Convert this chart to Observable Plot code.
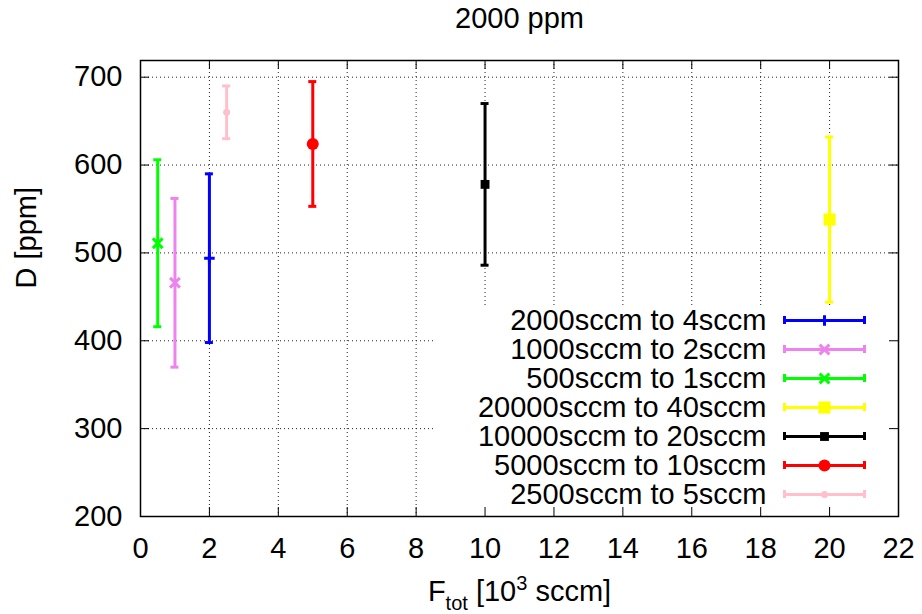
<!DOCTYPE html>
<html><head><meta charset="utf-8">
<script src="https://cdn.jsdelivr.net/npm/d3@7"></script>
<script src="https://cdn.jsdelivr.net/npm/@observablehq/plot@0.6"></script>
<style>
html,body{margin:0;padding:0;background:#fff;}
svg{display:block}
</style></head><body>
<div id="chart"></div>
<script>
// ---- data ----
const title = "2000 ppm";
const seriesLabels = ["2000sccm to 4sccm", "1000sccm to 2sccm", "500sccm to 1sccm", "20000sccm to 40sccm", "10000sccm to 20sccm", "5000sccm to 10sccm", "2500sccm to 5sccm"];
const flowTotal = [2, 1, 0.5, 20, 10, 5, 2.5];
const meanD = [494, 466, 511, 538, 578, 624, 660];
const errD = [96, 96, 95, 94, 92, 71, 30];
const xTicks = [0, 2, 4, 6, 8, 10, 12, 14, 16, 18, 20, 22];
const yTicks = [200, 300, 400, 500, 600, 700];
const xDomain = [0, 22];
const yDomain = [200, 719];
const xLabelText = "Ftot [103 sccm]";

// ---- styles ----
const colors = ["#0000ff", "#ee82ee", "#00ff00", "#ffff00", "#000000", "#ff0000", "#ffc0cb"];
const symbols = ["plus", "times", "times", "square", "square", "circle", "circle"];
const symbolR = [3.5, 4.5, 4.5, 6.8, 5, 6, 3.5];
const FS = 29;

const rows = seriesLabels.map((label, i) => ({
  label, x: flowTotal[i], y: meanD[i], lo: meanD[i] - errD[i], hi: meanD[i] + errD[i]
}));

const marks = [];
// grid
marks.push(Plot.ruleX(xTicks.filter(v => v > xDomain[0] && v < xDomain[1]), {stroke: "#222", strokeWidth: 1, strokeDasharray: "1,3"}));
marks.push(Plot.ruleY(yTicks.filter(v => v > yDomain[0]), {stroke: "#222", strokeWidth: 1, strokeDasharray: "1,3"}));
// opaque key box
marks.push(Plot.frame({fill: "white", stroke: null, insetLeft: 295, insetTop: 245, insetRight: 1, insetBottom: 1}));
// inward ticks (all four sides)
marks.push(Plot.ruleX(xTicks, {y1: yDomain[0], y2: yDomain[0], insetTop: -9, stroke: "#000"}));
marks.push(Plot.ruleX(xTicks, {y1: yDomain[1], y2: yDomain[1], insetBottom: -9, stroke: "#000"}));
marks.push(Plot.ruleY(yTicks, {x1: xDomain[0], x2: xDomain[0], insetRight: -9, stroke: "#000"}));
marks.push(Plot.ruleY(yTicks, {x1: xDomain[1], x2: xDomain[1], insetLeft: -9, stroke: "#000"}));
// border
marks.push(Plot.frame({stroke: "#000", strokeWidth: 1.5}));

// error bars
rows.forEach((d, i) => {
  const c = colors[i];
  marks.push(Plot.ruleX([d], {x: "x", y1: "lo", y2: "hi", stroke: c, strokeWidth: 3}));
  marks.push(Plot.ruleY([d.lo, d.hi], {x1: d.x, x2: d.x, insetLeft: -4, insetRight: -4, stroke: c, strokeWidth: 3}));
  const filled = symbols[i] === "square" || symbols[i] === "circle";
  marks.push(Plot.dot([d], {x: "x", y: "y", symbol: symbols[i], r: symbolR[i],
    fill: filled ? c : "none", stroke: filled ? "none" : c, strokeWidth: filled ? 0 : 3}));
});

// legend (inside, bottom-right)
rows.forEach((d, i) => {
  const c = colors[i];
  const dy = -(22 + (rows.length - 1 - i) * 29);
  marks.push(Plot.text([d.label], {x: xDomain[1], y: yDomain[0], text: t => t, dx: -132, dy,
    textAnchor: "end", lineAnchor: "middle", fontSize: FS, fill: "#000"}));
  marks.push(Plot.ruleY([yDomain[0]], {x1: xDomain[1], x2: xDomain[1], insetLeft: -114, insetRight: 34, dy, stroke: c, strokeWidth: 3}));
  marks.push(Plot.ruleX([xDomain[1]], {y1: yDomain[0], y2: yDomain[0], insetTop: -4, insetBottom: -4, dx: -114, dy, stroke: c, strokeWidth: 3}));
  marks.push(Plot.ruleX([xDomain[1]], {y1: yDomain[0], y2: yDomain[0], insetTop: -4, insetBottom: -4, dx: -34, dy, stroke: c, strokeWidth: 3}));
  const filled = symbols[i] === "square" || symbols[i] === "circle";
  marks.push(Plot.dot([0], {x: xDomain[1], y: yDomain[0], dx: -74, dy, symbol: symbols[i], r: symbolR[i],
    fill: filled ? c : "none", stroke: filled ? "none" : c, strokeWidth: filled ? 0 : 3}));
});

// title and axis labels
marks.push(Plot.text([title], {frameAnchor: "top", dy: -33, lineAnchor: "bottom", fontSize: FS, fill: "#000"}));
marks.push(Plot.text(["D [ppm]"], {frameAnchor: "left", dx: -114, rotate: -90, fontSize: FS, fill: "#000"}));
marks.push(Plot.text([xLabelText], {frameAnchor: "bottom", dy: 84, lineAnchor: "bottom", fontSize: FS, fill: "#000"}));

const chart = Plot.plot({
  width: 922,
  height: 614,
  marginLeft: 140,
  marginRight: 24,
  marginTop: 60,
  marginBottom: 98,
  style: {fontFamily: "'Liberation Sans', Arial, sans-serif", fontSize: FS + "px", color: "#000", background: "#fff"},
  x: {domain: xDomain, ticks: xTicks, tickSize: 0, tickPadding: 21, label: null, tickFormat: d => String(d)},
  y: {domain: yDomain, ticks: yTicks, tickSize: 0, tickPadding: 18, label: null, tickFormat: d => String(d)},
  marks
});
document.getElementById("chart").appendChild(chart);

// rich x label with subscript/superscript
d3.select(chart).selectAll("text").filter(function () { return this.textContent === xLabelText; }).each(function () {
  const xl = d3.select(this);
  xl.text(null);
  xl.append("tspan").text("F");
  xl.append("tspan").attr("dy", 9).attr("font-size", 20).text("tot");
  xl.append("tspan").attr("dy", -9).text(" [10");
  xl.append("tspan").attr("dy", -11).attr("font-size", 20).text("3");
  xl.append("tspan").attr("dy", 11).text(" sccm]");
});
</script>
</body></html>
